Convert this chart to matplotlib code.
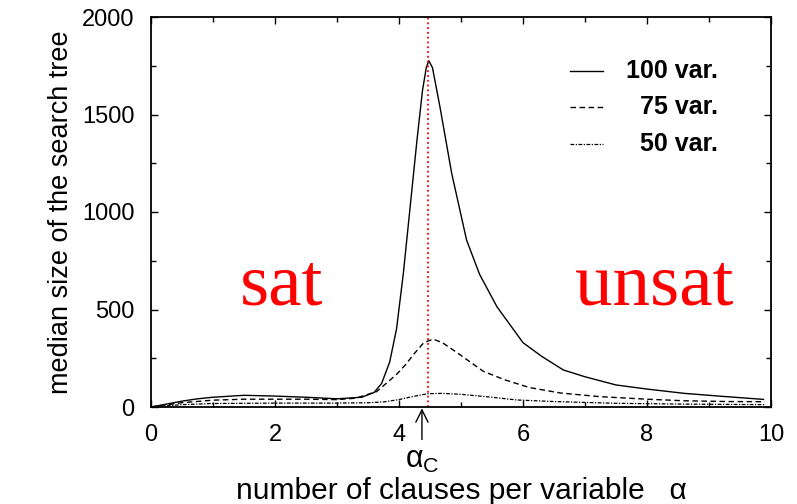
import matplotlib.pyplot as plt
from matplotlib.ticker import MultipleLocator

# median search tree size vs clauses per variable
x100 = [0, 0.25, 0.5, 0.75, 1.0, 1.5, 2.0, 2.5, 3.0, 3.4, 3.6, 3.72, 3.85, 3.96, 4.07, 4.18,
        4.29, 4.38, 4.44, 4.48, 4.54, 4.66, 4.85, 5.09, 5.3, 5.58, 6.0, 6.3, 6.65, 7.0, 7.5,
        8.0, 8.6, 9.2, 9.88]
y100 = [0, 15, 30, 42, 50, 60, 56, 50, 42, 50, 75, 121, 231, 400, 685, 1027,
        1369, 1626, 1740, 1776, 1740, 1540, 1198, 856, 680, 514, 330, 260, 190, 155, 113,
        92, 70, 55, 39]

x75 = [0, 0.5, 1, 1.5, 2, 2.5, 3, 3.3, 3.64, 3.96, 4.1, 4.25, 4.4, 4.55, 4.7, 4.93, 5.36,
       5.7, 6.1, 6.6, 7.24, 8.0, 8.6, 9.3, 9.9]
y75 = [0, 22, 35, 40, 40, 40, 38, 45, 79, 167, 215, 275, 330, 348, 330, 280, 183,
       140, 100, 72, 53, 40, 32, 28, 27]

x50 = [0, 0.5, 1, 2, 3, 3.5, 3.75, 4.0, 4.18, 4.46, 4.7, 5.0, 5.5, 5.9, 6.5, 7.5, 8.5, 9.9]
y50 = [0, 12, 18, 20, 20, 22, 26, 38, 51, 68, 70, 65, 50, 36, 28, 19, 15, 12]

alpha_c = 4.46
alpha_arrow = 4.37

plt.rcParams['font.family'] = ['Liberation Sans', 'DejaVu Sans']
plt.rcParams['mathtext.fontset'] = 'custom'
plt.rcParams['mathtext.rm'] = 'Liberation Sans'
plt.rcParams['mathtext.it'] = 'Liberation Sans'

fig = plt.figure(figsize=(7.97, 5.04), dpi=100)
ax = fig.add_axes([151 / 797, 1 - 407 / 504, 620 / 797, 390 / 504])

ax.plot(x100, y100, color='black', lw=1.0)
ax.plot(x75, y75, color='black', lw=1.0, dashes=(4, 2.5))
ax.plot(x50, y50, color='black', lw=0.9, dashes=(3, 1.2, 1, 1.2))
ax.axvline(alpha_c, color='red', ls=':', lw=1.3)

ax.set_xlim(0, 10)
ax.set_ylim(0, 2000)
ax.xaxis.set_major_locator(MultipleLocator(2))
ax.xaxis.set_minor_locator(MultipleLocator(1))
ax.yaxis.set_major_locator(MultipleLocator(500))
ax.yaxis.set_minor_locator(MultipleLocator(250))
ax.tick_params(which='both', direction='in', top=True, right=True, labelsize=17, pad=12)
ax.tick_params(which='major', length=5, width=1)
ax.tick_params(which='minor', length=3.5, width=1)
for s in ax.spines.values():
    s.set_linewidth(1.3)

ax.set_ylabel('median size of the search tree', fontsize=19.5, labelpad=6)
ax.set_xlabel('number of clauses per variable   α', fontsize=21.5)
ax.xaxis.set_label_coords(0.5, -0.18)

# alpha_c marker below the axis
ax.annotate(r'$\mathregular{\alpha_C}$', xy=(alpha_arrow, 0), xytext=(alpha_arrow, -272),
            ha='center', va='center', fontsize=22, annotation_clip=False,
            arrowprops=dict(arrowstyle='->', color='black', lw=1, shrinkA=2, shrinkB=1))

ax.text(2.11, 528, 'sat', color='red', fontsize=54, family='Liberation Serif',
        ha='center', va='baseline')
ax.text(8.11, 528, 'unsat', color='red', fontsize=54, family='Liberation Serif',
        ha='center', va='baseline')

# legend
labels = ['100 var.', '75 var.', '50 var.']
styles = [dict(lw=1.0), dict(lw=1.0, dashes=(4, 2.5)), dict(lw=0.9, dashes=(3, 1.2, 1, 1.2))]
for i, (lab, st) in enumerate(zip(labels, styles)):
    yy = 0.862 - i * 0.094
    ax.plot([0.676, 0.729], [yy, yy], color='black', transform=ax.transAxes, **st)
    ax.text(0.915, yy, lab, transform=ax.transAxes, ha='right', va='center',
            fontsize=18, fontweight='bold')

fig.savefig('out.png', dpi=100)
